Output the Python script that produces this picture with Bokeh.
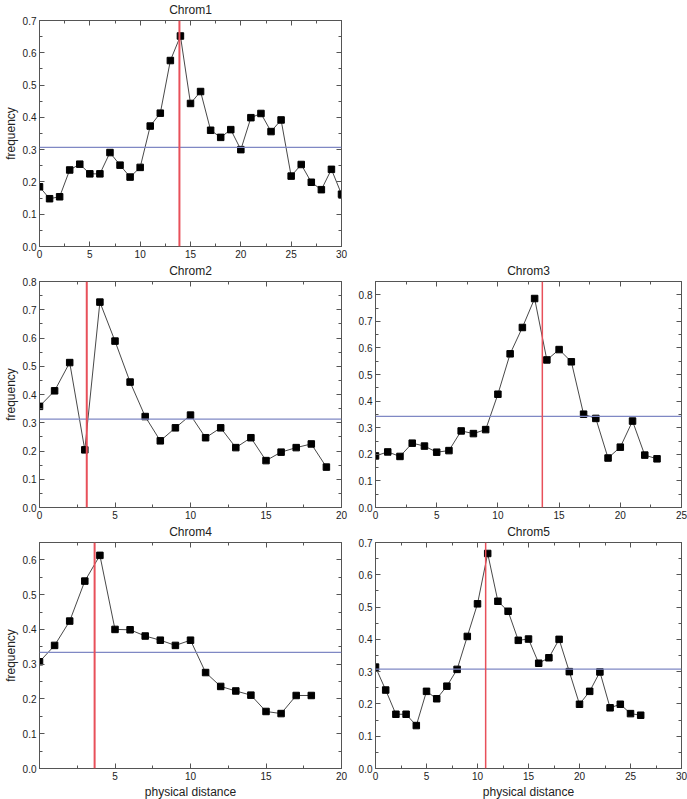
from bokeh.plotting import figure
from bokeh.layouts import column, row
from bokeh.models import (LinearAxis, SingleIntervalTicker, Span, PrintfTickFormatter,
                          Spacer, CustomLabelingPolicy)
from bokeh.embed import file_html
from bokeh.resources import INLINE

# ---------------- data ----------------
chrom_names = ["Chrom1", "Chrom2", "Chrom3", "Chrom4", "Chrom5"]

chrom1_freq = [0.185, 0.148, 0.154, 0.237, 0.255, 0.225, 0.225, 0.291, 0.252, 0.215,
               0.245, 0.373, 0.413, 0.576, 0.652, 0.443, 0.480, 0.360, 0.338, 0.362,
               0.300, 0.399, 0.412, 0.356, 0.392, 0.218, 0.254, 0.199, 0.176, 0.239, 0.162]
chrom2_freq = [0.358, 0.413, 0.513, 0.204, 0.727, 0.589, 0.444, 0.322, 0.236, 0.282,
               0.327, 0.247, 0.282, 0.212, 0.247, 0.166, 0.196, 0.212, 0.225, 0.143]
chrom3_freq = [0.194, 0.209, 0.192, 0.242, 0.231, 0.208, 0.214, 0.288, 0.278, 0.293,
               0.426, 0.578, 0.677, 0.786, 0.555, 0.594, 0.548, 0.351, 0.335, 0.186,
               0.227, 0.325, 0.197, 0.183]
chrom4_freq = [0.307, 0.354, 0.424, 0.539, 0.613, 0.400, 0.399, 0.381, 0.369, 0.354,
               0.369, 0.276, 0.236, 0.223, 0.211, 0.164, 0.158, 0.210, 0.210]
chrom5_freq = [0.314, 0.243, 0.168, 0.168, 0.133, 0.239, 0.216, 0.255, 0.307, 0.409,
               0.510, 0.666, 0.518, 0.487, 0.397, 0.401, 0.326, 0.343, 0.400, 0.300,
               0.199, 0.239, 0.299, 0.188, 0.199, 0.170, 0.165]

peak_position = [13.9, 3.13, 13.63, 3.65, 10.8]       # red vertical lines
threshold = [0.307, 0.313, 0.343, 0.334, 0.308]        # blue horizontal lines
x_max = [30, 20, 25, 20, 30]
y_max = [0.7, 0.8, 0.85, 0.65, 0.7]

x_label = "physical distance"
y_label = "frequency"

FONT = "Liberation Sans"
TEXT = "#222222"
AXIS = "#555555"


def style_axis(ax, show_labels=True):
    ax.axis_line_color = AXIS
    ax.major_tick_line_color = AXIS
    ax.minor_tick_line_color = AXIS
    ax.major_tick_in = 5
    ax.major_tick_out = 0
    ax.minor_tick_in = 3
    ax.minor_tick_out = 0
    ax.major_label_text_font = FONT
    ax.major_label_text_color = TEXT
    ax.axis_label_text_font = FONT
    ax.axis_label_text_color = TEXT
    ax.axis_label_text_font_style = "normal"
    ax.axis_label_text_font_size = "12px"
    ax.axis_label_standoff = 2
    if show_labels:
        ax.major_label_text_font_size = "10px"
        ax.major_label_standoff = 3
    else:
        ax.major_label_text_font_size = "1px"
        ax.major_label_standoff = 0
        ax.major_label_policy = CustomLabelingPolicy(code="return new Set()")


def panel(i, left_col, bottom_row):
    freq = [chrom1_freq, chrom2_freq, chrom3_freq, chrom4_freq, chrom5_freq][i]
    xs = list(range(len(freq)))
    p = figure(output_backend="svg", toolbar_location=None,
               frame_width=302 if left_col else 306, frame_height=226,
               x_range=(0, x_max[i]), y_range=(0, y_max[i] + 1e-6),
               min_border_left=31 if left_col else 18,
               min_border_right=14 if left_col else 8,
               min_border_top=15,
               min_border_bottom=30 if bottom_row else 15,
               title=chrom_names[i])
    p.xgrid.visible = False
    p.ygrid.visible = False
    p.outline_line_color = None
    p.background_fill_color = "white"
    p.border_fill_color = "white"
    p.title.align = "center"
    p.title.text_font = FONT
    p.title.text_font_size = "12px"
    p.title.text_font_style = "normal"
    p.title.text_color = TEXT
    p.title.standoff = 0
    p.title.offset = 0

    xt = SingleIntervalTicker(interval=5, num_minor_ticks=2)
    yt = SingleIntervalTicker(interval=0.1, num_minor_ticks=2)
    fmt = PrintfTickFormatter(format="%.1f")

    xa = p.xaxis[0]
    xa.ticker = xt
    style_axis(xa)
    if i == 3:
        xa.major_label_overrides = {0: ""}
    if bottom_row:
        xa.axis_label = x_label
    ya = p.yaxis[0]
    ya.ticker = yt
    ya.formatter = fmt
    style_axis(ya)
    if left_col:
        ya.axis_label = y_label

    top = LinearAxis(ticker=SingleIntervalTicker(interval=5, num_minor_ticks=2))
    style_axis(top, show_labels=False)
    p.add_layout(top, "above")
    right = LinearAxis(ticker=SingleIntervalTicker(interval=0.1, num_minor_ticks=2))
    style_axis(right, show_labels=False)
    p.add_layout(right, "right")

    p.add_layout(Span(location=threshold[i], dimension="width",
                      line_color="#7f88c4", line_width=1.2))
    p.add_layout(Span(location=peak_position[i], dimension="height",
                      line_color="#e8505a", line_width=2 if i in (0, 1, 3) else 1.5))

    p.line(xs, freq, line_color="#333333", line_width=0.9)
    p.scatter(xs, freq, marker="square", size=6.5, fill_color="black", line_color="black")
    return p


p1 = panel(0, True, False)
p2 = panel(1, True, False)
p3 = panel(2, False, False)
p4 = panel(3, True, True)
p5 = panel(4, False, True)

layout = column(
    row(p1, Spacer(width=332, height=10)),
    row(p2, p3),
    row(p4, p5),
    spacing=0,
)
for r in layout.children:
    r.spacing = 0

open("out.html", "w").write(file_html(layout, INLINE))
